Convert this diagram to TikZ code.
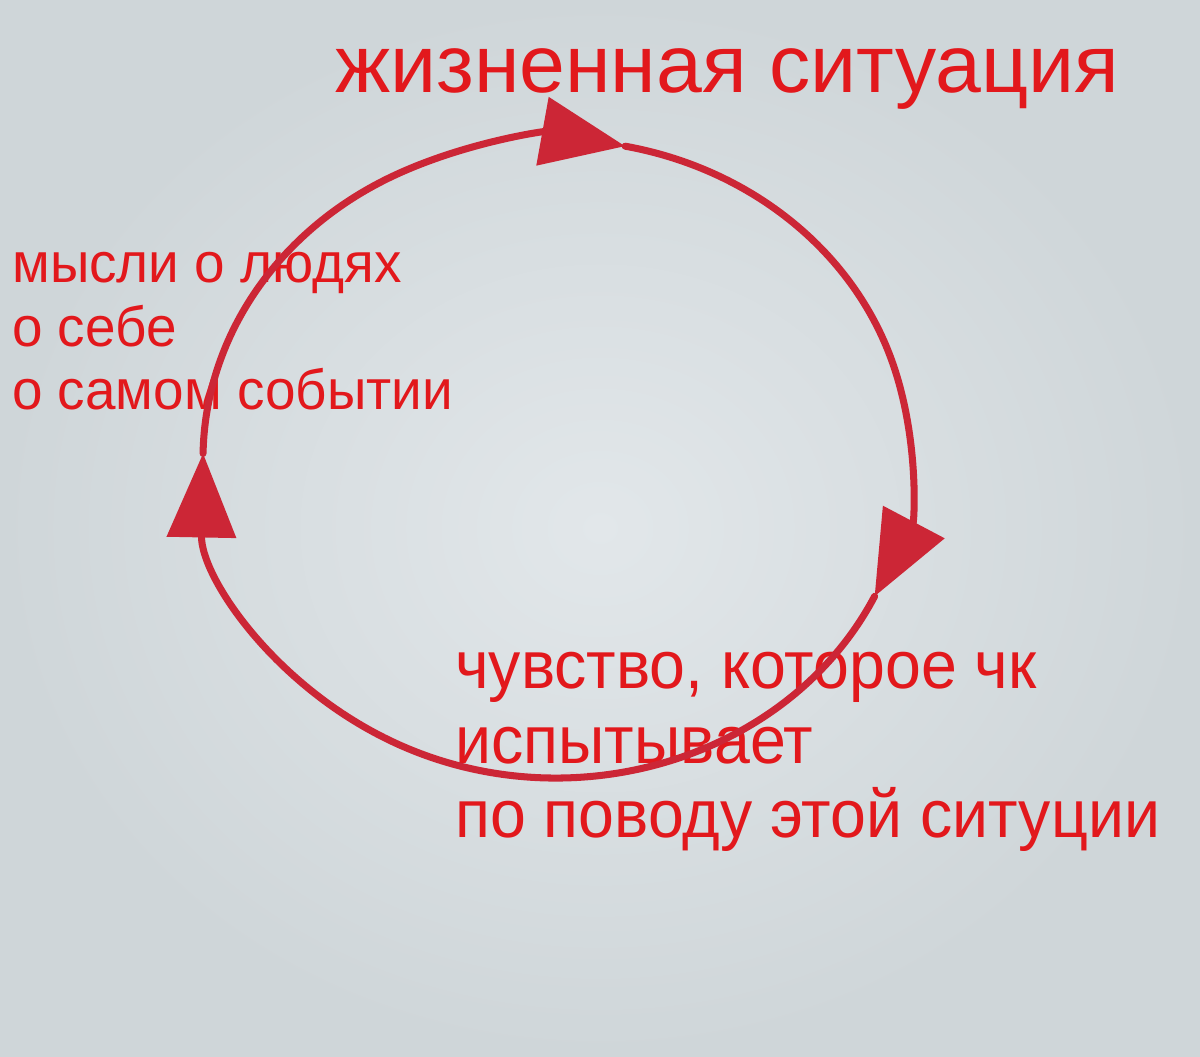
\documentclass[tikz,border=0pt]{standalone}
\usepackage{fontspec}
\setmainfont{Liberation Sans}
\usetikzlibrary{calc,arrows.meta}

\definecolor{paperlight}{RGB}{226,231,234}
\definecolor{paperdark}{RGB}{207,214,217}
\definecolor{ink}{RGB}{226,24,28}
\definecolor{pencil}{RGB}{204,38,54}

\begin{document}
\begin{tikzpicture}[x=0.025cm,y=0.025cm,
    label/.style={text=ink,inner sep=0pt,align=left},
    loop/.style={draw=pencil,line width=5pt,line cap=round,
        -{Triangle[length=2.1cm,width=1.7cm]}}]

        	\shade[inner color=paperlight,outer color=paperdark] (0,0) rectangle (1200,1056);

        	\coordinate (c) at (556,597);
        	\coordinate (p1) at ($(c)+(78.7:353 and 319)$);
        	\coordinate (p2) at ($(c)+(-25.5:353 and 319)$);
        	\coordinate (p3) at ($(c)+(-181:353 and 319)$);

        	% base west of a multi-line label sits on its last line
        	\node[label,anchor=base west,xscale=1.01,font=\fontsize{58}{60}\selectfont] (sit) at (335,963) {жизненная ситуация};
        	\node[label,anchor=base west,xscale=0.975,font=\fontsize{40}{45.2}\selectfont] (thought) at (12,646) {мысли о людях\\о себе\\о самом событии};
        	\node[label,anchor=base west,xscale=0.955,font=\fontsize{48}{53.3}\selectfont] (feel) at (455,218) {чувство, которое чк\\испытывает\\по поводу этой ситуции};

        	\draw[loop] (p1) arc[start angle=78.7,end angle=-25.5,x radius=353,y radius=319];
        	\draw[loop] (p2) arc[start angle=-25.5,end angle=-181,x radius=353,y radius=319];
        	\draw[loop] (p3) arc[start angle=-181,end angle=-281.3,x radius=353,y radius=319];

\end{tikzpicture}
\end{document}
